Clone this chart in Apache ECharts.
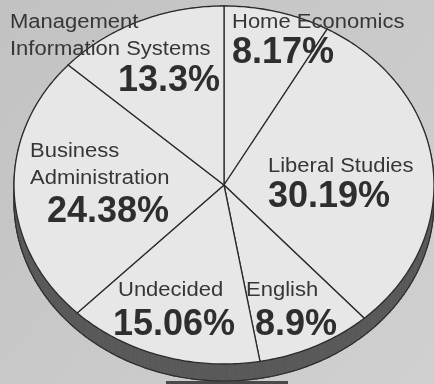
<!DOCTYPE html>
<html>
<head>
<meta charset="utf-8">
<script src="https://cdn.jsdelivr.net/npm/echarts@6/dist/echarts.min.js"></script>
<style>
  html, body { margin: 0; padding: 0; background: #c8c8c8; }
  #chart { width: 434px; height: 384px; }
</style>
</head>
<body>
<div id="chart"></div>
<script>
// Majors, listed clockwise starting at 12 o'clock
const majors = [
  'Home Economics',
  'Liberal Studies',
  'English',
  'Undecided',
  'Business\nAdministration',
  'Management\nInformation Systems'
];
// Share of students in each major (%)
const shares = [8.17, 30.19, 8.9, 15.06, 24.38, 13.3];

// Label placement per slice: [name x, first-line baseline, value x, value baseline]
const labelLayout = [
  [232, 29, 232, 65],
  [268, 173, 268, 209],
  [246, 297, 255, 337],
  [118, 297, 113, 337],
  [30, 158, 47, 224],
  [10, 29, 118, 93]
];

// Tilted-disc geometry
const CX = 224, CY = 185, RX = 210, RY = 179, DEPTH = 17;
const NAME_FONT = 20, NAME_SCALE_X = 1.1, VALUE_FONT = 36, LINE_GAP = 27;
const WALL = '#595959', WALL_EDGE = '#303030';

const total = shares.reduce((a, b) => a + b, 0);
const starts = [];
let acc = 0;
shares.forEach(v => { starts.push(acc); acc += v; });

function rimPoint(t, dy) {
  return [CX + RX * Math.sin(t), CY - RY * Math.cos(t) + (dy || 0)];
}

function sliceArc(i, v, dy) {
  const a0 = starts[i] / total * Math.PI * 2;
  const a1 = a0 + v / total * Math.PI * 2;
  const n = Math.max(2, Math.ceil((a1 - a0) / 0.015));
  const pts = [];
  for (let k = 0; k <= n; k++) pts.push(rimPoint(a0 + (a1 - a0) * k / n, dy));
  return pts;
}

// 'middle' text baseline sits about 0.33em above the alphabetic one
function midFromBaseline(baseline, size) { return baseline - size * 0.33; }

// side wall of each slice, built from narrow bands along the rim
function renderWall(params, api) {
  const i = params.dataIndex;
  const v = api.value(0);
  const top = sliceArc(i, v, 0);
  const low = sliceArc(i, v, DEPTH);
  const children = [];
  for (let k = 0; k < top.length - 1; k++) {
    children.push({
      type: 'polygon',
      shape: { points: [top[k], top[k + 1], low[k + 1], low[k]] },
      style: { fill: WALL, stroke: WALL, lineWidth: 0.8 }
    });
  }
  for (let k = 0; k < low.length - 1; k++) {
    children.push({
      type: 'line',
      shape: { x1: low[k][0], y1: low[k][1], x2: low[k + 1][0], y2: low[k + 1][1] },
      style: { stroke: WALL_EDGE, lineWidth: 1.2, lineCap: 'round' }
    });
  }
  return { type: 'group', children: children };
}

// top face of each slice
function renderFace(params, api) {
  const i = params.dataIndex;
  const v = api.value(0);
  const arc = sliceArc(i, v, 0);
  return {
    type: 'polygon',
    shape: { points: [[CX, CY]].concat(arc) },
    style: { fill: '#e7e7e7', stroke: '#2b2b2b', lineWidth: 1.3 }
  };
}

// category name and percentage of each slice
function renderLabel(params, api) {
  const i = params.dataIndex;
  const v = api.value(0);
  const lay = labelLayout[i];
  const children = [];
  majors[i].split('\n').forEach((line, j) => {
    children.push({
      type: 'text',
      x: lay[0], y: midFromBaseline(lay[1] + j * LINE_GAP, NAME_FONT),
      scaleX: NAME_SCALE_X,
      style: {
        text: line, fill: '#363636',
        font: NAME_FONT + 'px "Liberation Sans", Arial, sans-serif',
        align: 'left', verticalAlign: 'middle'
      }
    });
  });
  children.push({
    type: 'text',
    x: lay[2], y: midFromBaseline(lay[3], VALUE_FONT),
    style: {
      text: v + '%', fill: '#2e2e2e',
      font: 'bold ' + VALUE_FONT + 'px "Liberation Sans", Arial, sans-serif',
      align: 'left', verticalAlign: 'middle'
    }
  });
  return { type: 'group', children: children };
}

function sliceData() {
  return shares.map((v, i) => ({ name: majors[i], value: [v] }));
}

const chart = echarts.init(document.getElementById('chart'));
chart.setOption({
  animation: false,
  backgroundColor: {
    type: 'linear', x: 0, y: 0, x2: 1, y2: 1,
    colorStops: [{ offset: 0, color: '#c2c2c2' }, { offset: 1, color: '#d0d0d0' }]
  },
  graphic: [{
    type: 'rect', z: 0,
    shape: { x: 166, y: 381, width: 122, height: 3 },
    style: { fill: '#4a4a4a' }
  }],
  series: [
    { type: 'custom', z: 1, coordinateSystem: 'none', renderItem: renderWall, data: sliceData() },
    { type: 'custom', z: 2, coordinateSystem: 'none', renderItem: renderFace, data: sliceData() },
    { type: 'custom', z: 3, coordinateSystem: 'none', renderItem: renderLabel, data: sliceData() }
  ]
});
</script>
</body>
</html>
